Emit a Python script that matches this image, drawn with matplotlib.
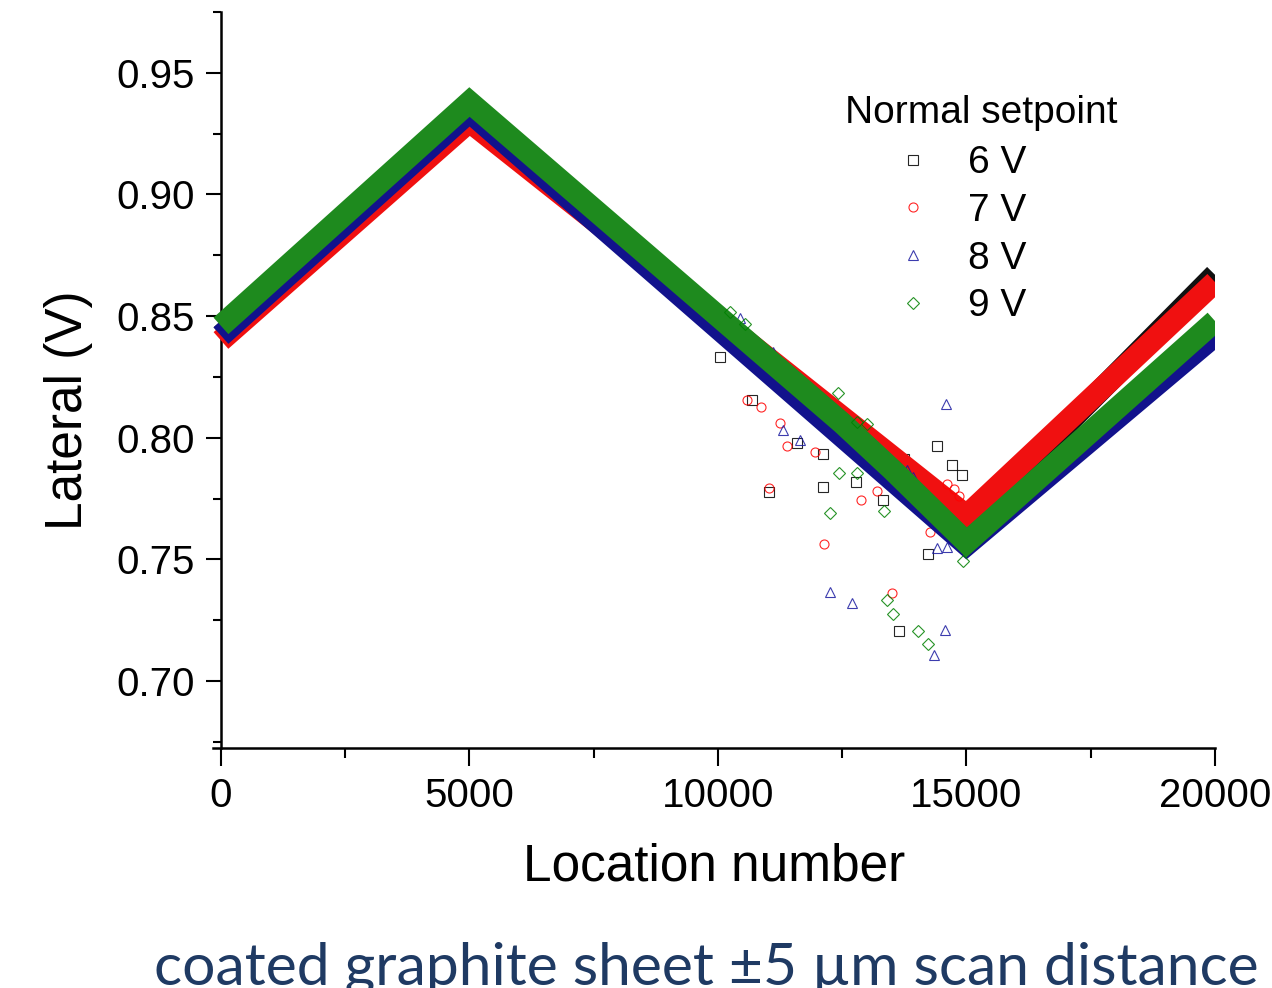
import matplotlib
matplotlib.use('Agg')
import matplotlib.pyplot as plt
from matplotlib.ticker import MultipleLocator, FormatStrFormatter

plt.rcParams['font.family'] = ['Liberation Sans', 'DejaVu Sans']

# trend of each series (location number, lateral V), read at the corners
trend_x_6v = [0, 5000, 15000, 20000]
trend_y_6v = [0.842, 0.932, 0.764, 0.867]
trend_x_7v = [0, 5000, 15000, 20000]
trend_y_7v = [0.840, 0.930, 0.768, 0.864]
trend_x_8v = [0, 5000, 15000, 20000]
trend_y_8v = [0.842, 0.934, 0.756, 0.842]
trend_x_9v = [0, 5000, 12500, 13500, 15000, 20000]
trend_y_9v = [0.846, 0.938, 0.806, 0.787, 0.757, 0.848]

# scattered points away from the band
pts_x_6v = [11026, 12106, 12770, 13749, 14400, 14715, 14903, 13642, 14219, 12119,
            12823, 13313, 10040, 10678, 11583, 12575]
pts_y_6v = [0.7779, 0.7799, 0.7820, 0.7912, 0.7968, 0.7888, 0.7847, 0.7206, 0.7523, 0.7932,
            0.8005, 0.7744, 0.8333, 0.8155, 0.7977, 0.8046]
pts_x_7v = [11032, 12133, 12877, 13494, 11382, 10865, 11952, 13192, 14266, 11247,
            10577, 13595, 14600, 14750, 14850]
pts_y_7v = [0.7793, 0.7562, 0.7744, 0.7364, 0.7966, 0.8125, 0.7943, 0.7783, 0.7612, 0.8060,
            0.8155, 0.7888, 0.7810, 0.7790, 0.7760]
pts_x_8v = [11113, 14588, 12254, 12690, 14567, 14352, 10443, 14400, 14601, 11851,
            13797, 13923, 11650, 11308]
pts_y_8v = [0.8354, 0.8138, 0.7368, 0.7322, 0.7210, 0.7108, 0.8491, 0.7546, 0.7553, 0.8156,
            0.7868, 0.7840, 0.7990, 0.8030]
pts_x_9v = [12408, 12790, 12991, 12441, 12254, 13346, 13394, 13515, 14030, 14231,
            14936, 10241, 10543, 12790]
pts_y_9v = [0.8183, 0.8066, 0.8057, 0.7857, 0.7690, 0.7700, 0.7334, 0.7276, 0.7206, 0.7153,
            0.7494, 0.8518, 0.8468, 0.7854]

labels = ['6 V', '7 V', '8 V', '9 V']
colors = ['#000000', '#ff0000', '#1a1aa0', '#008000']
band_colors = ['#111111', '#f01010', '#12128c', '#1e8a1e']
markers = ['s', 'o', '^', 'D']

fig = plt.figure(figsize=(12.72, 9.88), dpi=100)
ax = fig.add_axes([213 / 1272, 240 / 988, 1002 / 1272, 736 / 988])

trends = [(trend_x_6v, trend_y_6v), (trend_x_7v, trend_y_7v),
          (trend_x_8v, trend_y_8v), (trend_x_9v, trend_y_9v)]
points = [(pts_x_6v, pts_y_6v), (pts_x_7v, pts_y_7v),
          (pts_x_8v, pts_y_8v), (pts_x_9v, pts_y_9v)]

handles = []
for i in range(4):
    tx, ty = trends[i]
    px, py = points[i]
    # dense band of points drawn as a thick trace
    ax.plot(tx, ty, color=band_colors[i], lw=16, solid_joinstyle='miter',
            solid_capstyle='butt', zorder=2 + i)
    h, = ax.plot(px, py, ls='none', marker=markers[i], ms=6.5 if markers[i] != 'D' else 6,
                 mfc='none', mec=colors[i], mew=0.8, alpha=0.85, zorder=2 + i,
                 label=labels[i])
    handles.append(h)

ax.set_xlim(-160, 20000)
ax.set_ylim(0.6725, 0.975)
ax.spines['left'].set_position(('data', 0))
ax.spines['top'].set_visible(False)
ax.spines['right'].set_visible(False)
for s in ['left', 'bottom']:
    ax.spines[s].set_linewidth(1.8)

ax.xaxis.set_major_locator(MultipleLocator(5000))
ax.xaxis.set_minor_locator(MultipleLocator(2500))
ax.yaxis.set_major_locator(MultipleLocator(0.05))
ax.yaxis.set_minor_locator(MultipleLocator(0.025))
ax.yaxis.set_major_formatter(FormatStrFormatter('%.2f'))
ax.tick_params(axis='x', which='major', direction='out', length=13, width=1.5, labelsize=29, pad=8)
ax.tick_params(axis='x', which='minor', direction='out', length=7, width=1.5)
ax.tick_params(axis='y', which='major', direction='out', length=11, width=1.5, labelsize=29, pad=8)
ax.tick_params(axis='y', which='minor', direction='out', length=6, width=1.5)

ax.set_xlabel('Location number', fontsize=37, labelpad=20)
ax.set_ylabel('Lateral (V)', fontsize=37)
ax.yaxis.set_label_coords(-0.12, 0.459)

ax.text(0.7665, 0.8627, 'Normal setpoint', transform=ax.transAxes, fontsize=28,
        ha='center', va='center')
leg = ax.legend(handles=handles, loc='upper left', bbox_to_anchor=(0.679, 0.8187),
                frameon=False, fontsize=28, handlelength=1.0, handletextpad=0.92,
                labelspacing=0.3, borderpad=0, borderaxespad=0, numpoints=1)

fig.text(0.5554, 0.004, 'coated graphite sheet \u00b15 \u00b5m scan distance',
         fontsize=42.3, family=['Lato', 'DejaVu Sans'], color='#1f3a63',
         ha='center', va='baseline')

fig.savefig('out.png', dpi=100)
